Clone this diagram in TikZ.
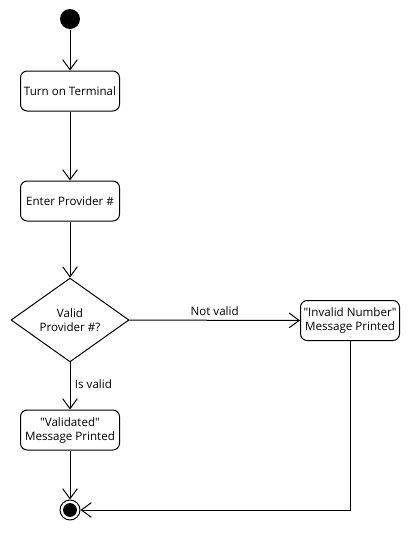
\documentclass[tikz,border=0pt]{standalone}
\usepackage{fontspec}
\setmainfont{Open Sans}
\usetikzlibrary{shapes.geometric,arrows.meta}
\tikzset{
  act/.style={draw, rounded corners=5pt, minimum width=74.25pt, minimum height=30pt, align=center, inner sep=1pt},
  choice/.style={draw, diamond, minimum width=88.5pt, minimum height=45pt, inner sep=0pt, align=center},
  startnode/.style={circle, fill=black, minimum size=15pt, inner sep=0pt},
  endnode/.style={circle, draw, minimum size=15pt, inner sep=0pt,
    path picture={\fill (path picture bounding box.center) circle (5.2pt);}},
}
\begin{document}
\begin{tikzpicture}[x=0.75pt, y=-0.75pt, font=\fontsize{8.7}{10.5}\selectfont, line width=0.75pt, line join=round,
  >={Straight Barb[length=7.5pt,width=11pt]}]
	\useasboundingbox (0,0) rectangle (410,540);
	\node[startnode] (start) at (70,19) {};
	\node[act] (turnon) at (70,91) {Turn on Terminal};
	\node[act] (enter) at (70,201) {Enter Provider \#};
	\node[choice] (valid) at (70,320) {Valid\\Provider \#?};
	\node[act] (invalid) at (350,320.5) {\textquotedbl Invalid Number\textquotedbl\\Message Printed};
	\node[act] (validated) at (70,430) {\textquotedbl Validated\textquotedbl\\Message Printed};
	\node[endnode] (end) at (70,510) {};
	\draw[->] (start)--(turnon);
	\draw[->] (turnon)--(enter);
	\draw[->] (enter)--(valid);
	\draw[->] (valid)--node[above]{Not valid}(invalid);
	\draw[->] (valid)--node[right, yshift=1pt]{Is valid}(validated);
	\draw[->] (validated)--(end);
	\draw[->] (invalid.south)|-(end);
\end{tikzpicture}
\end{document}
